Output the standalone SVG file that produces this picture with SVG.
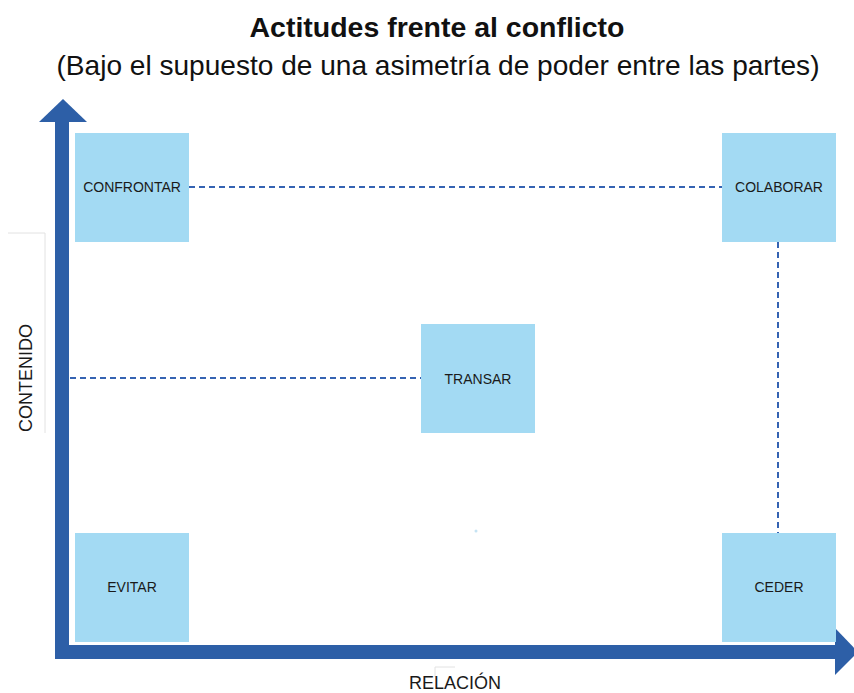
<svg xmlns="http://www.w3.org/2000/svg" width="854" height="693" viewBox="0 0 854 693">
<style>
.box{fill:#A3DAF3}
.lbl{font-family:"Liberation Sans",Arial,sans-serif;font-size:14px;fill:#1a1a1a;text-anchor:middle}
.axis{fill:#2D5FA7}
.dash{stroke:#3563B2;stroke-width:2;stroke-dasharray:6 4;fill:none}
.faint{stroke:#E2E2E2;stroke-width:1;fill:none}
.ax{font-family:"Liberation Sans",Arial,sans-serif;font-size:18px;fill:#1a1a1a;text-anchor:middle}
</style>
<rect width="854" height="693" fill="#fff"/>
<text x="437" y="37" font-family="'Liberation Sans',Arial,sans-serif" font-size="28" font-weight="bold" text-anchor="middle" textLength="375" lengthAdjust="spacingAndGlyphs" fill="#111">Actitudes frente al conflicto</text>
<text x="438" y="75" font-family="'Liberation Sans',Arial,sans-serif" font-size="28" text-anchor="middle" textLength="763" lengthAdjust="spacingAndGlyphs" fill="#111">(Bajo el supuesto de una asimetría de poder entre las partes)</text>
<polyline class="faint" points="8,233 45,233 45,433"/>
<polyline class="faint" points="455,667 435,667 435,677"/>
<circle cx="476" cy="531" r="1.5" fill="#C5E3F3"/>
<g id="axes">
<rect class="axis" x="55" y="120" width="14" height="539"/>
<polygon class="axis" points="39,122 63,99 87,122"/>
<rect class="axis" x="55" y="645" width="782" height="14"/>
<polygon class="axis" points="835,628 858,652 835,675"/>
</g>
<g id="connectors">
<line class="dash" x1="189" y1="187" x2="722" y2="187"/>
<line class="dash" x1="70" y1="378" x2="421" y2="378"/>
<line class="dash" x1="778" y1="242" x2="778" y2="533"/>
</g>
<g id="confrontar"><rect class="box" x="75" y="133" width="114" height="109"/><text class="lbl" x="132" y="192">CONFRONTAR</text></g>
<g id="colaborar"><rect class="box" x="722" y="133" width="114" height="109"/><text class="lbl" x="779" y="192">COLABORAR</text></g>
<g id="transar"><rect class="box" x="421" y="324" width="114" height="109"/><text class="lbl" x="478" y="384">TRANSAR</text></g>
<g id="evitar"><rect class="box" x="75" y="533" width="114" height="109"/><text class="lbl" x="132" y="592">EVITAR</text></g>
<g id="ceder"><rect class="box" x="722" y="533" width="114" height="109"/><text class="lbl" x="779" y="592">CEDER</text></g>
<text class="ax" transform="translate(32,378) rotate(-90)">CONTENIDO</text>
<text class="ax" x="455" y="689" font-size="17.5">RELACIÓN</text>
</svg>
